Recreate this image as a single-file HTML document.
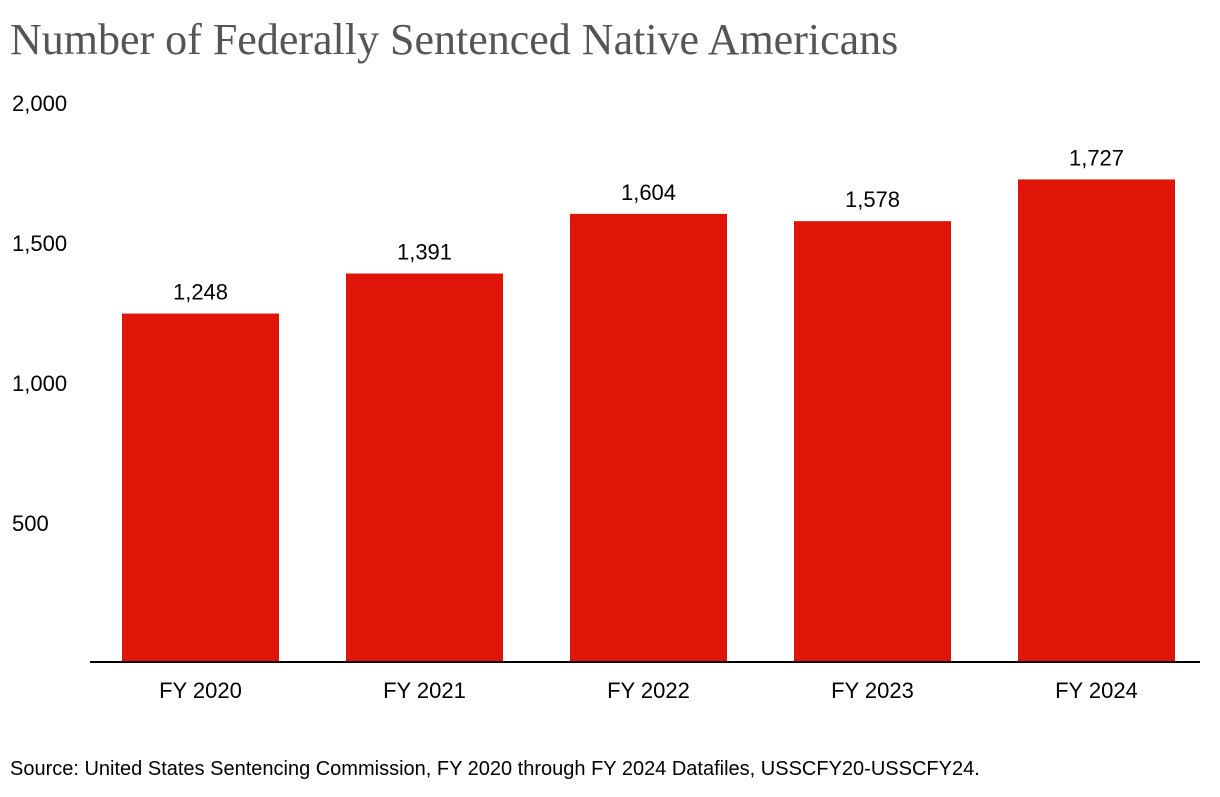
<!DOCTYPE html>
<html><head><meta charset="utf-8"><style>
body{margin:0;background:#fff;width:1220px;height:792px;overflow:hidden;font-family:"Liberation Sans",sans-serif}
</style></head><body>
<svg width="1220" height="792">
<text x="10" y="54" font-family="Liberation Serif, serif" font-size="44" fill="#555">Number of Federally Sentenced Native Americans</text>
<g id="yaxis"></g>
<g id="bars"></g>
<line x1="90" x2="1200" y1="662" y2="662" stroke="#000" stroke-width="2"/>
<text x="10" y="775" font-size="20" fill="#000">Source: United States Sentencing Commission, FY 2020 through FY 2024 Datafiles, USSCFY20-USSCFY24.</text>
</svg>
<script>
const categories=["FY 2020","FY 2021","FY 2022","FY 2023","FY 2024"];
const values=[1248,1391,1604,1578,1727];
const yTicks=[500,1000,1500,2000];
const ns="http://www.w3.org/2000/svg";
const y0=663,kY=0.28;
function y(v){return y0-v*kY;}
function x(i){return 122+i*224;}
const bw=157;
const fmt=v=>v.toLocaleString("en-US");
const ya=document.getElementById("yaxis"),bg=document.getElementById("bars");
yTicks.forEach(t=>{const e=document.createElementNS(ns,"text");
e.setAttribute("x",12);e.setAttribute("y",y(t)+8);e.setAttribute("font-size","22");


e.textContent=fmt(t);ya.appendChild(e);});
values.forEach((v,i)=>{
const r=document.createElementNS(ns,"rect");
r.setAttribute("x",x(i));r.setAttribute("y",y(v));r.setAttribute("width",bw);r.setAttribute("height",y0-1-y(v));r.setAttribute("fill","#e01407");


bg.appendChild(r);
const l=document.createElementNS(ns,"text");
l.setAttribute("x",x(i)+bw/2);l.setAttribute("y",y(v)-14);l.setAttribute("font-size","22");l.setAttribute("text-anchor","middle");


l.textContent=fmt(v);bg.appendChild(l);
const c=document.createElementNS(ns,"text");
c.setAttribute("x",x(i)+bw/2);c.setAttribute("y",698);c.setAttribute("font-size","22");c.setAttribute("text-anchor","middle");


c.textContent=categories[i];bg.appendChild(c);
});
</script>
</body></html>
